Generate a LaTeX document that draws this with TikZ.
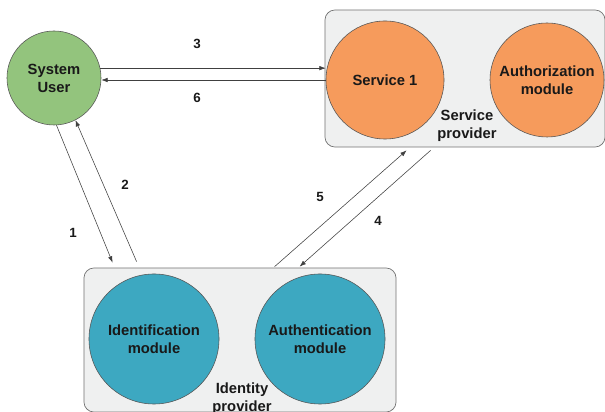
\documentclass[tikz,border=0pt]{standalone}
\usepackage{fontspec}
\setsansfont{Liberation Sans}
\usepackage{tikz}
\usetikzlibrary{arrows.meta, calc}

\definecolor{userfill}{RGB}{147,196,125}
\definecolor{svcfill}{RGB}{246,155,92}
\definecolor{idfill}{RGB}{61,168,193}
\definecolor{boxfill}{RGB}{239,240,240}
\definecolor{edgegray}{RGB}{85,85,85}

\begin{document}
\begin{tikzpicture}[x=0.025cm, y=0.025cm,
    every node/.style={font=\sffamily\bfseries\fontsize{10.5}{12.8}\selectfont, text=black!90, align=center},
    module/.style={circle, draw=edgegray, line width=0.4pt, inner sep=0pt},
    provider/.style={rectangle, rounded corners=0.25cm, draw=black!55, fill=boxfill, line width=0.5pt, inner sep=0pt},
    flow/.style={draw=black!75, line width=0.4pt, -{Latex[length=4.5pt, width=3.2pt]}},
    step label/.style={font=\sffamily\bfseries\fontsize{9.5}{11}\selectfont}]
  \useasboundingbox (0,0) rectangle (605,412);

  % Provider boxes
  \node[provider, minimum width=7cm, minimum height=3.425cm] (sp) at (465,333.5) {};
  \node[provider, minimum width=7.8cm, minimum height=3.6cm] (idp) at (240,72) {};

  % Modules
  \node[module, fill=userfill, minimum size=2.35cm] (user) at (54,334) {System\\User};
  \node[module, fill=svcfill, minimum size=2.95cm] (svc) at (385,332) {Service 1};
  \node[module, fill=svcfill, minimum size=2.85cm] (authz) at (547,332) {Authorization\\module};
  \node[module, fill=idfill, minimum size=3.25cm] (ident) at (154,73) {Identification\\module};
  \node[module, fill=idfill, minimum size=3.25cm] (authn) at (320,73) {Authentication\\module};

  \node (splabel) at (467,286) {Service\\provider};
  \node (idplabel) at (242,13) {Identity\\provider};

  % Free ends on the box edges
  \coordinate (in1) at ($(idp.north west)+(29,5)$);
  \coordinate (out2) at ($(idp.north west)+(53,6)$);
  \coordinate (out5) at ($(idp.north west)+(191,1)$);
  \coordinate (in4) at ($(idp.north west)+(216,1)$);
  \coordinate (in5) at ($(sp.south west)+(82,-3)$);
  \coordinate (out4) at ($(sp.south west)+(106,-3)$);

  % Message flows
  \draw[flow] (user.12) -- (user.12 -| svc.west);
  \draw[flow] (svc.west) -- (svc.west -| user.east);
  \draw[flow] (user.-87) -- (in1);
  \draw[flow] (out2) -- (user.-63);
  \draw[flow] (out4) -- (in4);
  \draw[flow] (out5) -- (in5);

  % Step numbers
  \node[step label] (n3) at (197,368) {3};
  \node[step label] (n6) at (197,314) {6};
  \node[step label] (n1) at (73,179) {1};
  \node[step label] (n2) at (125,227) {2};
  \node[step label] (n5) at (320,215) {5};
  \node[step label] (n4) at (378,191) {4};
\end{tikzpicture}
\end{document}
